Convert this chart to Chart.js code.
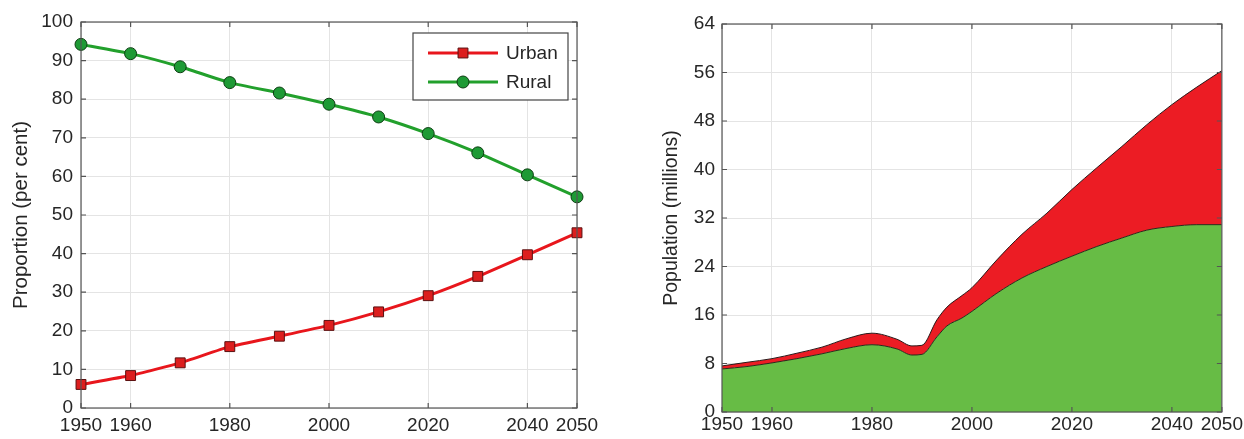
<!DOCTYPE html>
<html>
<head>
<meta charset="utf-8">
<script src="https://cdn.jsdelivr.net/npm/chart.js@4.4.1/dist/chart.umd.min.js"></script>
<style>
  html, body { margin: 0; padding: 0; background: #fff; }
  body { width: 1244px; height: 439px; position: relative; overflow: hidden; }
  canvas { position: absolute; top: 0; }
  #shareChart { left: 0; }
  #popChart { left: 640px; }
</style>
</head>
<body>
<canvas id="shareChart" width="620" height="439"></canvas>
<canvas id="popChart" width="604" height="439"></canvas>
<script>
// proportion of population, per cent
const years = [1950, 1960, 1970, 1980, 1990, 2000, 2010, 2020, 2030, 2040, 2050];
const urbanShare = [6.1, 8.4, 11.7, 15.9, 18.6, 21.4, 24.9, 29.1, 34.1, 39.7, 45.4];
const ruralShare = [94.2, 91.8, 88.4, 84.3, 81.6, 78.7, 75.4, 71.1, 66.1, 60.4, 54.7];

// population in millions (rural, and rural + urban)
const popYears = [1950, 1955, 1960, 1965, 1970, 1975, 1980, 1985, 1988, 1990, 1993, 1995, 1998, 2000,
                  2005, 2010, 2015, 2020, 2025, 2030, 2035, 2040, 2045, 2050];
const ruralPop = [7.1, 7.5, 8.1, 8.8, 9.6, 10.5, 11.1, 10.4, 9.4, 9.5, 12.4, 14.2, 15.5, 16.6,
                  19.6, 22.1, 24.0, 25.7, 27.3, 28.7, 30.0, 30.6, 30.9, 30.9];
const totalPop = [7.6, 8.2, 8.8, 9.7, 10.7, 12.1, 13.0, 12.0, 10.9, 11.0, 15.2, 17.3, 19.2, 20.5,
                  25.1, 29.3, 32.8, 36.7, 40.3, 43.8, 47.4, 50.7, 53.6, 56.3];

const xTicks = [1950, 1960, 1980, 2000, 2020, 2040, 2050];
const shareTicks = [0, 10, 20, 30, 40, 50, 60, 70, 80, 90, 100];
const popTicks = [0, 8, 16, 24, 32, 40, 48, 56, 64];

const FONT = '"Liberation Sans", Arial, sans-serif';
const TXT = '#262626';
const GRID = '#e4e4e4';

// box around the plot with small inward ticks on every side
const frame = {
  id: 'frame',
  afterDraw(chart) {
    const ctx = chart.ctx;
    const a = chart.chartArea;
    const xs = chart.scales.x, ys = chart.scales.y;
    ctx.save();
    ctx.strokeStyle = '#555';
    ctx.lineWidth = 1.2;
    ctx.strokeRect(a.left, a.top, a.right - a.left, a.bottom - a.top);
    ctx.beginPath();
    xs.ticks.forEach(t => {
      const px = xs.getPixelForValue(t.value);
      ctx.moveTo(px, a.bottom); ctx.lineTo(px, a.bottom - 5);
      ctx.moveTo(px, a.top); ctx.lineTo(px, a.top + 5);
    });
    ys.ticks.forEach(t => {
      const py = ys.getPixelForValue(t.value);
      ctx.moveTo(a.left, py); ctx.lineTo(a.left + 5, py);
      ctx.moveTo(a.right, py); ctx.lineTo(a.right - 5, py);
    });
    ctx.stroke();
    ctx.restore();
  }
};

function drawMarker(ctx, ds, x, y) {
  ctx.fillStyle = ds.pointBackgroundColor;
  ctx.strokeStyle = ds.pointBorderColor;
  ctx.lineWidth = 1;
  ctx.beginPath();
  if (ds.pointStyle === 'rect') {
    const s = ds.pointRadius / Math.SQRT2;
    ctx.rect(x - s, y - s, 2 * s, 2 * s);
  } else {
    ctx.arc(x, y, ds.pointRadius, 0, Math.PI * 2);
  }
  ctx.fill();
  ctx.stroke();
}

// legend with line + marker samples, upper right of the plot
const lineLegend = {
  id: 'lineLegend',
  afterDraw(chart) {
    const ctx = chart.ctx;
    const a = chart.chartArea;
    const x0 = a.right - 164, y0 = a.top + 11, w = 155, h = 67;
    ctx.save();
    ctx.fillStyle = '#fff';
    ctx.fillRect(x0, y0, w, h);
    ctx.strokeStyle = '#444';
    ctx.lineWidth = 1.2;
    ctx.strokeRect(x0, y0, w, h);
    chart.data.datasets.forEach((ds, i) => {
      const cy = y0 + 20 + i * 29;
      ctx.strokeStyle = ds.borderColor;
      ctx.lineWidth = ds.borderWidth;
      ctx.beginPath();
      ctx.moveTo(x0 + 15, cy);
      ctx.lineTo(x0 + 85, cy);
      ctx.stroke();
      drawMarker(ctx, ds, x0 + 50, cy);
      ctx.fillStyle = TXT;
      ctx.font = '19px ' + FONT;
      ctx.textBaseline = 'middle';
      ctx.fillText(ds.label, x0 + 93, cy + 1);
    });
    ctx.restore();
  }
};

function xScale(pad, height) {
  return {
    type: 'linear',
    min: 1950,
    max: 2050,
    afterBuildTicks: s => { s.ticks = xTicks.map(v => ({ value: v })); },
    afterFit: s => { s.height = height; },
    grid: { color: GRID, drawTicks: false },
    border: { display: false },
    ticks: {
      autoSkip: false, maxRotation: 0, padding: pad, color: TXT,
      font: { family: FONT, size: 19 },
      callback: v => String(v)
    }
  };
}

function yScale(max, ticks, title, titleSize, titlePad, width, pad) {
  return {
    type: 'linear',
    min: 0,
    max: max,
    afterBuildTicks: s => { s.ticks = ticks.map(v => ({ value: v })); },
    afterFit: s => { s.width = width; },
    grid: { color: GRID, drawTicks: false },
    border: { display: false },
    ticks: { padding: pad, color: TXT, font: { family: FONT, size: 19 } },
    title: {
      display: true, text: title, color: TXT,
      font: { family: FONT, size: titleSize },
      padding: { top: titlePad, bottom: 0 }
    }
  };
}

new Chart(document.getElementById('shareChart'), {
  type: 'line',
  data: {
    datasets: [
      {
        label: 'Urban',
        data: years.map((y, i) => ({ x: y, y: urbanShare[i] })),
        borderColor: '#e8161c',
        borderWidth: 3,
        pointStyle: 'rect',
        pointRadius: 7,
        pointBackgroundColor: '#dc1e1e',
        pointBorderColor: '#5a1010',
        pointBorderWidth: 1,
        tension: 0.15,
        clip: false
      },
      {
        label: 'Rural',
        data: years.map((y, i) => ({ x: y, y: ruralShare[i] })),
        borderColor: '#22a02c',
        borderWidth: 3,
        pointStyle: 'circle',
        pointRadius: 6,
        pointBackgroundColor: '#1e9a35',
        pointBorderColor: '#0d3d12',
        pointBorderWidth: 1,
        tension: 0.15,
        clip: false
      }
    ]
  },
  options: {
    responsive: false,
    animation: false,
    layout: { padding: { top: 22, right: 43, left: 0, bottom: 0 } },
    plugins: { legend: { display: false }, tooltip: { enabled: false } },
    scales: {
      x: xScale(6, 31),
      y: yScale(100, shareTicks, 'Proportion (per cent)', 20.5, 9, 81, 8)
    }
  },
  plugins: [frame, lineLegend]
});

new Chart(document.getElementById('popChart'), {
  type: 'line',
  data: {
    datasets: [
      {
        label: 'Rural',
        data: popYears.map((y, i) => ({ x: y, y: ruralPop[i] })),
        borderColor: '#2a2a1a',
        borderWidth: 1,
        backgroundColor: '#67bc45',
        fill: 'origin',
        pointRadius: 0,
        cubicInterpolationMode: 'monotone'
      },
      {
        label: 'Urban',
        data: popYears.map((y, i) => ({ x: y, y: totalPop[i] })),
        borderColor: '#2a1a1a',
        borderWidth: 1,
        backgroundColor: '#ec1c24',
        fill: '-1',
        pointRadius: 0,
        cubicInterpolationMode: 'monotone'
      }
    ]
  },
  options: {
    responsive: false,
    animation: false,
    layout: { padding: { top: 24, right: 22, left: 0, bottom: 0 } },
    plugins: { legend: { display: false }, tooltip: { enabled: false } },
    scales: {
      x: xScale(1, 27),
      y: yScale(64, popTicks, 'Population (millions)', 19.5, 20, 82, 7)
    }
  },
  plugins: [frame]
});
</script>
</body>
</html>
